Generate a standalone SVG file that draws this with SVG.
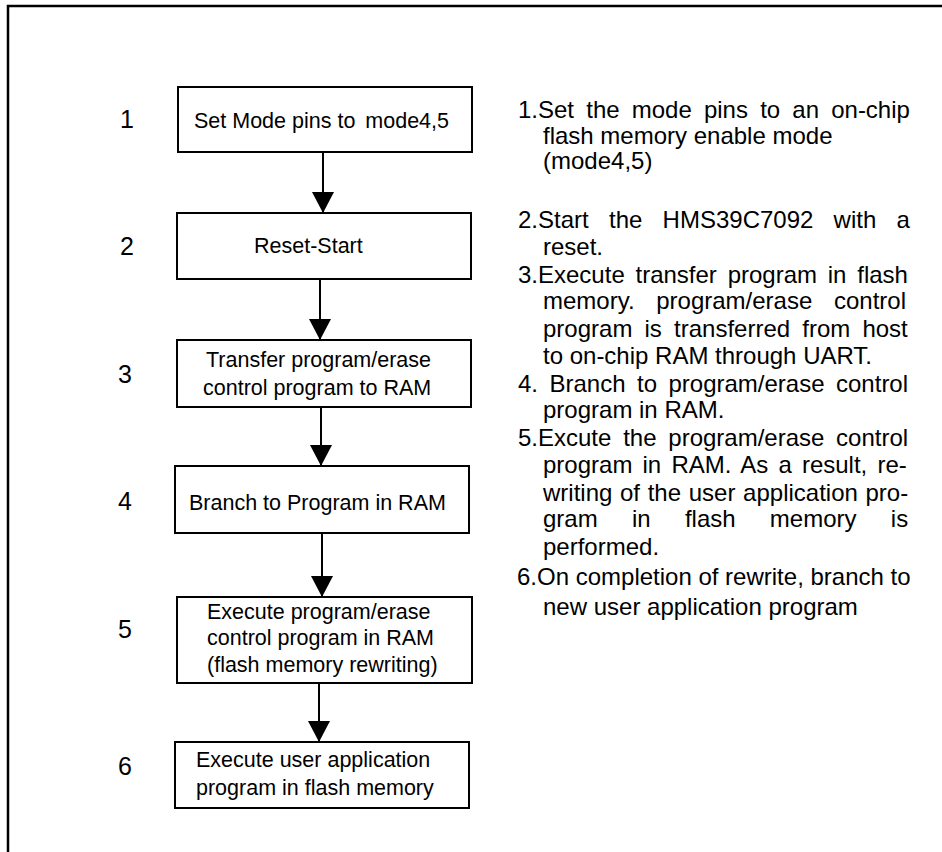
<svg xmlns="http://www.w3.org/2000/svg" width="942" height="852" viewBox="0 0 942 852">
<style>
text{font-family:"Liberation Sans",Arial,sans-serif;fill:#000}
.box{fill:#fff;stroke:#000;stroke-width:2}
.bt{font-size:21.5px}
.num{font-size:25px;text-anchor:middle}
.desc{font-size:24px}
.conn{stroke:#000;stroke-width:2;fill:none;marker-end:url(#ah)}
</style>
<defs>
<marker id="ah" markerUnits="userSpaceOnUse" markerWidth="22" markerHeight="22" refX="21" refY="11" orient="auto" viewBox="0 0 22 22">
<path d="M0,0 L21,11 L0,22 Z" fill="#000"/>
</marker>
</defs>
<rect width="942" height="852" fill="#fff"/>
<path d="M8,852 V6 H942" fill="none" stroke="#000" stroke-width="2.5"/>

<g id="connectors">
<line class="conn" x1="323" y1="152" x2="323" y2="213"/>
<line class="conn" x1="320" y1="279" x2="320" y2="340"/>
<line class="conn" x1="321" y1="407" x2="321" y2="466"/>
<line class="conn" x1="322" y1="533" x2="322" y2="597"/>
<line class="conn" x1="319" y1="683" x2="319" y2="742"/>
</g>

<g id="node1">
<rect class="box" x="178" y="87" width="294" height="65"/>
<text class="bt" x="194" y="128">Set Mode pins to<tspan dx="4"> mode4,5</tspan></text>
<text class="num" x="127" y="128">1</text>
</g>
<g id="node2">
<rect class="box" x="177" y="213" width="294" height="66"/>
<text class="bt" x="254" y="253">Reset-Start</text>
<text class="num" x="127" y="255">2</text>
</g>
<g id="node3">
<rect class="box" x="177" y="340" width="294" height="67"/>
<text class="bt" x="206" y="367">Transfer program/erase</text>
<text class="bt" x="203" y="395">control program to RAM</text>
<text class="num" x="125" y="383">3</text>
</g>
<g id="node4">
<rect class="box" x="175" y="466" width="294" height="67"/>
<text class="bt" x="189" y="510">Branch to Program in RAM</text>
<text class="num" x="125" y="510">4</text>
</g>
<g id="node5">
<rect class="box" x="177" y="597" width="295" height="86"/>
<text class="bt" x="207" y="619">Execute program/erase</text>
<text class="bt" x="207" y="645">control program in RAM</text>
<text class="bt" x="207" y="672">(flash memory rewriting)</text>
<text class="num" x="125" y="638">5</text>
</g>
<g id="node6">
<rect class="box" x="175" y="742" width="294" height="66"/>
<text class="bt" x="196" y="767">Execute user application</text>
<text class="bt" x="196" y="795">program in flash memory</text>
<text class="num" x="125" y="775">6</text>
</g>

<g id="description" class="desc">
<text class="desc" x="518" y="118" word-spacing="5.5">1.Set the mode pins to an on-chip</text>
<text class="desc" x="543" y="144">flash memory enable mode</text>
<text class="desc" x="543" y="169">(mode4,5)</text>
<text class="desc" x="518" y="228" word-spacing="13.6">2.Start the HMS39C7092 with a</text>
<text class="desc" x="543" y="255">reset.</text>
<text class="desc" x="518" y="283" word-spacing="4.1">3.Execute transfer program in flash</text>
<text class="desc" x="543" y="309" word-spacing="15">memory. program/erase control</text>
<text class="desc" x="543" y="337" word-spacing="5.5">program is transferred from host</text>
<text class="desc" x="543" y="364">to on-chip RAM through UART.</text>
<text class="desc" x="518" y="392" word-spacing="4.8">4. Branch to program/erase control</text>
<text class="desc" x="543" y="418">program in RAM.</text>
<text class="desc" x="518" y="446" word-spacing="5.1">5.Excute the program/erase control</text>
<text class="desc" x="543" y="473" word-spacing="3.5">program in RAM. As a result, re-</text>
<text class="desc" x="543" y="501" word-spacing="1">writing of the user application pro-</text>
<text class="desc" x="543" y="527" word-spacing="27.6">gram in flash memory is</text>
<text class="desc" x="543" y="555">performed.</text>
<text class="desc" x="517" y="585">6.On completion of rewrite, branch to</text>
<text class="desc" x="543" y="615">new user application program</text>
</g>
</svg>
